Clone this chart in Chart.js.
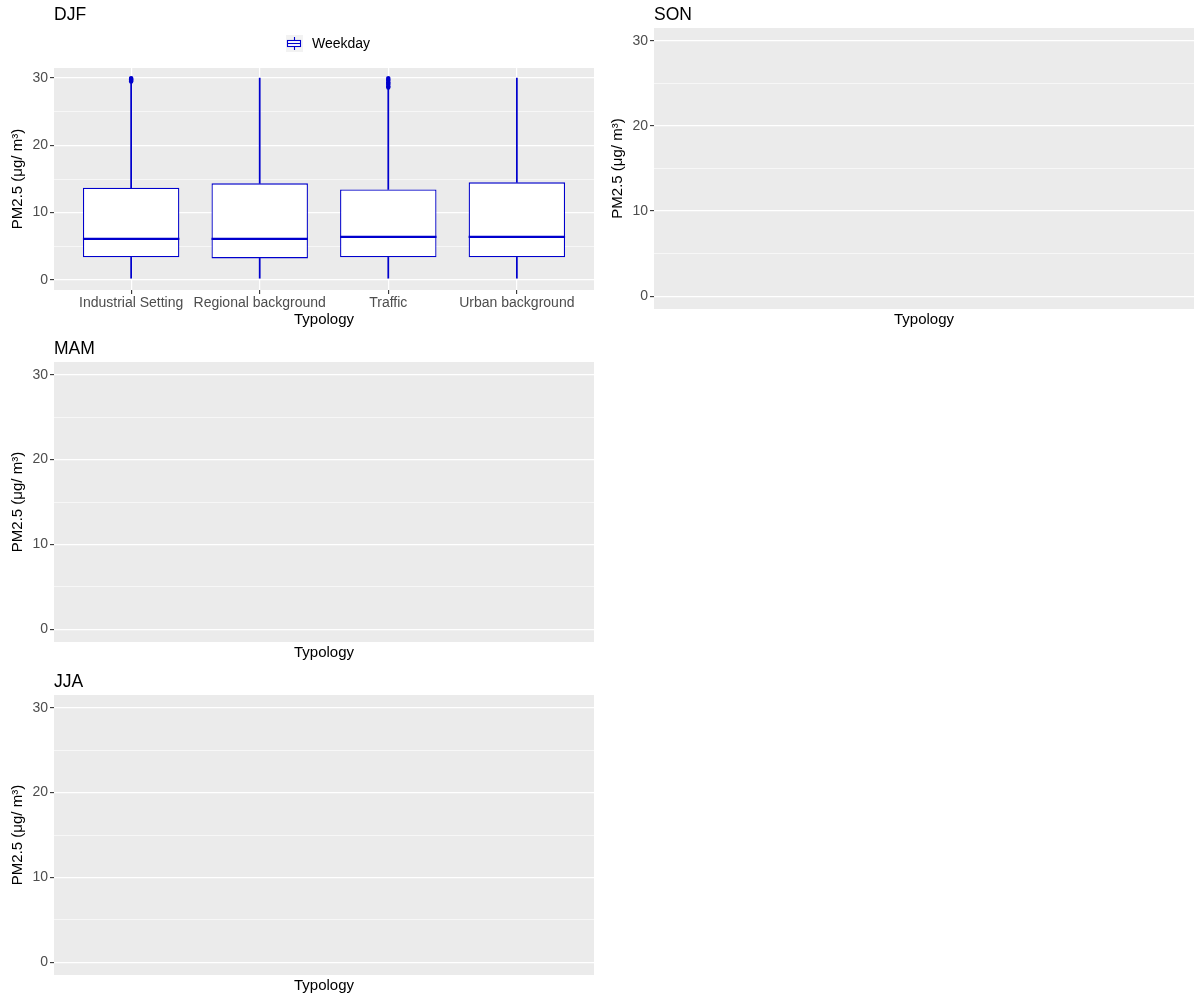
<!DOCTYPE html>
<html><head><meta charset="utf-8">
<script src="https://cdn.jsdelivr.net/npm/chart.js@4"></script>
<style>
html,body{margin:0;padding:0;background:#fff;}
#wrap{position:relative;width:1200px;height:1000px;}
canvas{position:absolute;}
</style></head><body>
<div id="wrap">
<canvas id="c0" width="600" height="331" style="left:0px;top:0px"></canvas>
<canvas id="c1" width="600" height="331" style="left:600px;top:0px"></canvas>
<canvas id="c2" width="600" height="333" style="left:0px;top:331px"></canvas>
<canvas id="c3" width="600" height="333" style="left:0px;top:664px"></canvas>
</div>
<script>
// ---- data ----
const seasons = ['DJF', 'SON', 'MAM', 'JJA'];
const typologies = ['Industrial Setting', 'Regional background', 'Traffic', 'Urban background'];
const seriesName = 'Weekday';
const djfLow = [0.25, 0.25, 0.25, 0.25];
const djfQ1 = [3.35, 3.2, 3.35, 3.35];
const djfMedian = [6.1, 6.1, 6.4, 6.4];
const djfQ3 = [13.7, 14.35, 13.45, 14.5];
const djfHigh = [29.4, 30.0, 28.4, 30.0];
const djfOutliers = [
  [29.5, 29.6, 29.7, 29.8, 29.9, 30.0],
  [],
  [28.6, 28.8, 29.0, 29.2, 29.4, 29.6, 29.8, 30.0],
  []
];
const yMajorTicks = [0, 10, 20, 30];
const yMinorTicks = [5, 15, 25];
const yMin = -1.5, yMax = 31.5;
const yTitle = 'PM2.5 (\u03bcg/ m\u00b3)';
const xTitle = 'Typology';

// ---- styling ----
const BLUE = '#0000CD';
Chart.defaults.font.family = '"Liberation Sans", Arial, sans-serif';
Chart.defaults.color = '#4D4D4D';

const panelDecor = {
  id: 'panelDecor',
  beforeDraw(chart) {
    const {ctx, chartArea: a} = chart;
    ctx.save();
    ctx.fillStyle = '#EBEBEB';
    ctx.fillRect(a.left, a.top, a.right - a.left, a.bottom - a.top);
    ctx.restore();
  },
  afterDatasetsDraw(chart, args, opts) {
    if (!opts.medians) return;
    const {ctx} = chart;
    const xs = chart.scales.x, ys = chart.scales.y;
    const boxMeta = chart.getDatasetMeta(opts.boxIndex);
    ctx.save();
    ctx.strokeStyle = BLUE;
    ctx.lineWidth = 2.4;
    opts.medians.forEach((m, i) => {
      const el = boxMeta.data[i];
      const cx = xs.getPixelForValue(i + 1);
      const hw = el.width / 2;
      const y = ys.getPixelForValue(m);
      ctx.beginPath();
      ctx.moveTo(cx - hw, y);
      ctx.lineTo(cx + hw, y);
      ctx.stroke();
    });
    ctx.restore();
  },
  afterDraw(chart, args, opts) {
    const {ctx, chartArea: a} = chart;
    ctx.save();
    ctx.fillStyle = '#000';
    ctx.font = '17.5px "Liberation Sans", Arial, sans-serif';
    ctx.textBaseline = 'alphabetic';
    ctx.textAlign = 'left';
    ctx.fillText(opts.title, a.left, opts.titleBaseline != null ? opts.titleBaseline : a.top - 8);
    if (opts.legend) {
      const kx = 286, ky = 35, ks = 17;
      ctx.fillStyle = '#F2F2F2';
      ctx.fillRect(kx, ky, ks, ks);
      ctx.strokeStyle = BLUE;
      ctx.lineWidth = 1.1;
      ctx.beginPath();
      ctx.moveTo(kx + 8.5, ky + 2); ctx.lineTo(kx + 8.5, ky + 5.5);
      ctx.moveTo(kx + 8.5, ky + 11.5); ctx.lineTo(kx + 8.5, ky + 15);
      ctx.stroke();
      ctx.fillStyle = '#fff';
      ctx.fillRect(kx + 1.5, ky + 5.5, 13, 6);
      ctx.strokeRect(kx + 1.5, ky + 5.5, 13, 6);
      ctx.beginPath();
      ctx.moveTo(kx + 1.5, ky + 8.5); ctx.lineTo(kx + 14.5, ky + 8.5);
      ctx.stroke();
      ctx.fillStyle = '#000';
      ctx.font = '14px "Liberation Sans", Arial, sans-serif';
      ctx.textBaseline = 'middle';
      ctx.fillText(opts.legend, kx + 26, ky + 9);
    }
    ctx.restore();
  }
};

function makePanel(id, season, withData, padTop, xHeight, titleBaseline) {
  const datasets = [];
  if (withData) {
    datasets.push({
      type: 'bar', label: seriesName + ' upper',
      data: typologies.map((t, i) => ({x: i + 1, y: [djfQ3[i], djfHigh[i]]})),
      backgroundColor: BLUE, borderWidth: 0, grouped: false, barThickness: 1.1
    });
    datasets.push({
      type: 'bar', label: seriesName + ' lower',
      data: typologies.map((t, i) => ({x: i + 1, y: [djfLow[i], djfQ1[i]]})),
      backgroundColor: BLUE, borderWidth: 0, grouped: false, barThickness: 1.1
    });
    datasets.push({
      type: 'bar', label: seriesName,
      data: typologies.map((t, i) => ({x: i + 1, y: [djfQ1[i], djfQ3[i]]})),
      backgroundColor: '#FFFFFF', borderColor: BLUE, borderWidth: 1.3, borderSkipped: false,
      grouped: false, barPercentage: 0.75, categoryPercentage: 1
    });
    const pts = [];
    djfOutliers.forEach((arr, i) => arr.forEach(v => pts.push({x: i + 1, y: v})));
    datasets.push({
      type: 'scatter', label: seriesName + ' outliers', data: pts,
      backgroundColor: BLUE, borderColor: BLUE, pointRadius: 2.2, borderWidth: 0, showLine: false
    });
  }
  const isMajor = v => yMajorTicks.includes(v);
  return new Chart(document.getElementById(id), {
    type: 'bar',
    data: {datasets},
    plugins: [panelDecor],
    options: {
      responsive: false, animation: false, events: [],
      layout: {padding: {top: padTop, left: 0, right: 6, bottom: 0}},
      plugins: {
        legend: {display: false}, tooltip: {enabled: false}, title: {display: false},
        panelDecor: {
          title: season,
          titleBaseline: titleBaseline,
          legend: withData ? seriesName : null,
          medians: withData ? djfMedian : null,
          boxIndex: 2
        }
      },
      scales: {
        x: {
          type: 'linear', min: 0.4, max: 4.6, offset: false,
          afterBuildTicks: s => { s.ticks = withData ? typologies.map((t, i) => ({value: i + 1})) : []; },
          afterFit: s => { s.height = xHeight; },
          ticks: {
            display: withData, autoSkip: false, maxRotation: 0, minRotation: 0, padding: 1,
            color: '#4D4D4D', font: {size: 14},
            callback: v => typologies[Math.round(v) - 1]
          },
          grid: {offset: false, color: '#FFFFFF', lineWidth: 1.2, tickLength: 4, tickColor: '#333333', tickWidth: 1.1, drawTicks: withData},
          border: {display: false},
          title: {display: true, text: xTitle, color: '#000', font: {size: 15}, padding: {top: 0, bottom: 2}}
        },
        y: {
          type: 'linear', min: yMin, max: yMax,
          afterBuildTicks: s => { s.ticks = yMajorTicks.concat(yMinorTicks).sort((a, b) => a - b).map(v => ({value: v})); },
          afterFit: s => { s.width = 54; },
          ticks: {
            padding: 2, color: '#4D4D4D', font: {size: 14},
            callback: v => isMajor(v) ? String(v) : ''
          },
          grid: {
            color: '#FFFFFF',
            lineWidth: c => isMajor(c.tick.value) ? 1.2 : 0.6,
            tickLength: 4,
            tickColor: c => isMajor(c.tick.value) ? '#333333' : 'rgba(0,0,0,0)',
            tickWidth: 1.1
          },
          border: {display: false},
          title: {display: true, text: yTitle, color: '#000', font: {size: 15}, padding: {top: 9, bottom: 0}}
        }
      }
    }
  });
}

makePanel('c0', seasons[0], true, 68, 41, 20);
makePanel('c1', seasons[1], false, 28, 22, null);
makePanel('c2', seasons[2], false, 31, 22, null);
makePanel('c3', seasons[3], false, 31, 22, null);
</script>
</body></html>
